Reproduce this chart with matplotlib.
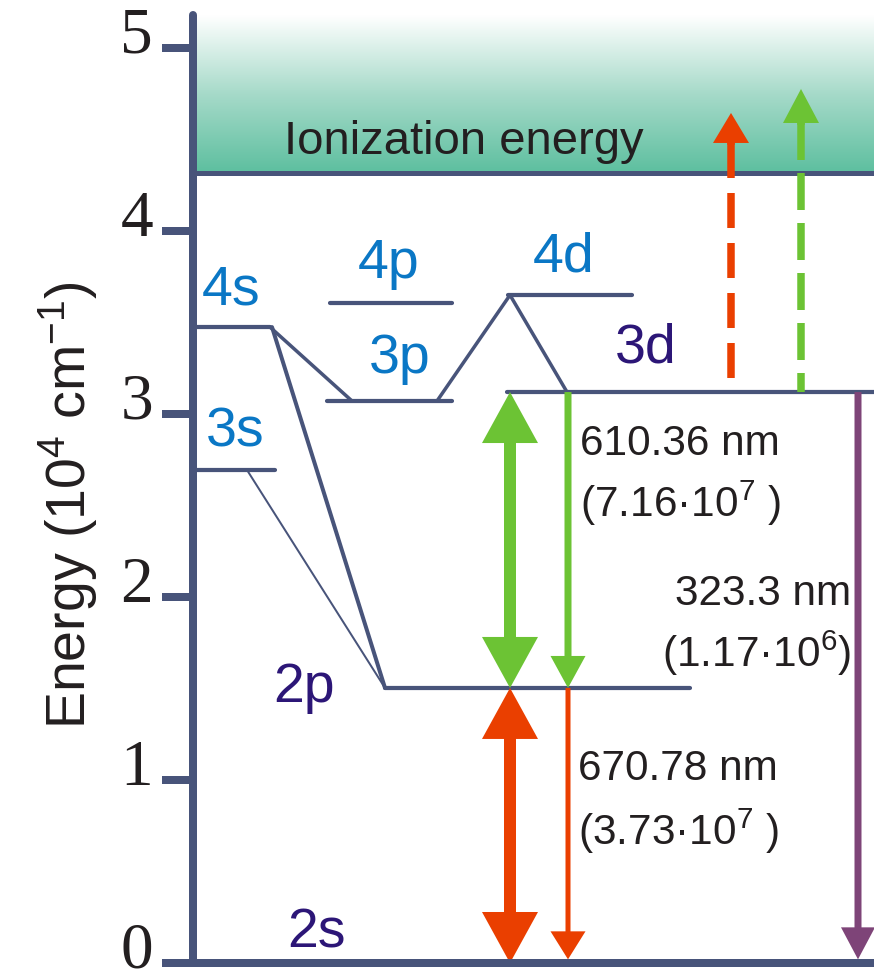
import numpy as np
import matplotlib
matplotlib.use("Agg")
import matplotlib.pyplot as plt
import matplotlib.transforms as mtransforms
from matplotlib.patches import FancyArrowPatch
from matplotlib.colors import LinearSegmentedColormap

plt.rcParams["font.family"] = ["Liberation Sans", "DejaVu Sans"]
plt.rcParams["mathtext.default"] = "regular"
plt.rcParams["lines.scale_dashes"] = False

# --- data: Li term energies in 10^4 cm^-1, horizontal layout in px from the axis ---
level_names = ["2s", "2p", "3s", "3p", "3d", "4s", "4p", "4d"]
level_energy = [0.0, 1.503, 2.694, 3.071, 3.120, 3.475, 3.607, 3.650]
level_x0 = [0, 192, 0, 134, 314, 0, 137, 315]
level_x1 = [681, 497, 82, 259, 681, 77, 259, 439]
label_x = [94, 80, 13, 176, 422, 9, 165, 340]
label_e = [0.087, 1.426, 2.825, 3.224, 3.279, 3.596, 3.743, 3.776]
label_col = ["#2c1677", "#2c1677", "#0a77c5", "#0a77c5", "#2c1677", "#0a77c5", "#0a77c5", "#0a77c5"]
ion_energy = 4.317

# cascade lines (from level -> to level, line width px)
links_from = ["4s", "4s", "3s", "3p", "4d"]
links_to = ["3p", "2p", "2p", "4d", "3d"]
links_x0 = [77, 79, 54, 244, 317]
links_x1 = [159, 192, 192, 317, 374]
links_w = [3.5, 4.0, 2.0, 3.5, 3.5]

# transitions
wl_text = ["610.36 nm", "(7.16·10$^7$ )", "323.3 nm", "(1.17·10$^6$)", "670.78 nm", "(3.73·10$^7$ )"]
wl_x = [387, 387, 658, 658, 385, 385]
wl_e = [2.776, 2.437, 1.956, 1.617, 1.000, 0.645]
wl_ha = ["left", "left", "right", "right", "left", "left"]

SLATE = "#48547a"
GREEN = "#6cc334"
RED = "#ea3f00"
PURPLE = "#7e4478"
INK = "#231f20"
PT = 0.72  # px -> pt at dpi 100

fig = plt.figure(figsize=(8.74, 9.72), dpi=100)
ax = fig.add_axes([193 / 874, 9 / 972, 681 / 874, 948 / 972])
ytop = 948 / 183

# ionization continuum gradient
cmap = LinearSegmentedColormap.from_list("ion", ["#5dbf9f", "#a6dac9", "#ffffff"])
ax.imshow(np.linspace(0, 1, 256).reshape(-1, 1), extent=[0, 681, ion_energy, ytop],
          origin="lower", cmap=cmap, aspect="auto", zorder=0)
ax.axhline(ion_energy, color=SLATE, lw=5 * PT, zorder=2)
ax.text(91, 4.421, "Ionization energy", fontsize=34, color=INK, va="baseline")

ax.set_xlim(0, 681)
ax.set_ylim(0, ytop)
ppu = 183.0  # px per energy unit

# levels
for name, e, x0, x1 in zip(level_names, level_energy, level_x0, level_x1):
    if name == "2s":
        continue
    ax.plot([x0, x1], [e, e], color=SLATE, lw=4.2 * PT, solid_capstyle="round", zorder=3)
for name, x, e, c in zip(level_names, label_x, label_e, label_col):
    ax.text(x, e, name, fontsize=40, color=c, va="baseline")

E = dict(zip(level_names, level_energy))
for a, b, x0, x1, w in zip(links_from, links_to, links_x0, links_x1, links_w):
    ax.plot([x0, x1], [E[a], E[b]], color=SLATE, lw=w * PT, solid_capstyle="round", zorder=3)


def arrow(x, y0, y1, color, tail, hw, hl):
    ax.add_patch(FancyArrowPatch((x, y0), (x, y1),
                                 arrowstyle=f"simple,head_length={hl * PT},head_width={hw * PT},tail_width={tail * PT}",
                                 color=color, lw=0, shrinkA=0, shrinkB=0, mutation_scale=1, zorder=4))


def double_arrow(x, y0, y1, color, hl=51):
    # each half starts under the opposite head so no shaft pokes past a tip
    d = np.sign(y1 - y0) * (hl - 4) / ppu
    arrow(x, y0 + d, y1, color, 12, 56, hl)
    arrow(x, y1 - d, y0, color, 12, 56, hl)


double_arrow(317, E["3d"], E["2p"], GREEN)
double_arrow(317, E["2p"], E["2s"], RED)
arrow(375, E["3d"], E["2p"], GREEN, 7, 35, 32)
arrow(375, E["2p"], E["2s"] + 0.02, RED, 5, 35, 28)
arrow(665, E["3d"], E["2s"] + 0.02, PURPLE, 7, 34, 32)

# photo-ionization (dashed)
dash_x = [538, 608]
dash_tip = [4.645, 4.776]
dash_col = [RED, GREEN]
dash_hl = [30, 34]
dash_pat = [(35, 15), (37, 13)]
for x, tip, c, hl, pat in zip(dash_x, dash_tip, dash_col, dash_hl, dash_pat):
    base = tip - hl / ppu
    ax.plot([x, x], [base, E["3d"]], color=c, lw=7.5 * PT, dashes=(pat[0] * PT, pat[1] * PT),
            solid_capstyle="butt", dash_capstyle="butt", zorder=4)
    arrow(x, base - 0.01, tip, c, 7.5, 36, hl)

for t, x, e, ha in zip(wl_text, wl_x, wl_e, wl_ha):
    ax.text(x, e, t, fontsize=30.5, color=INK, ha=ha, va="baseline", zorder=5)

# axes styling
for s in ["top", "right"]:
    ax.spines[s].set_visible(False)
for s in ["left", "bottom"]:
    ax.spines[s].set_color(SLATE)
    ax.spines[s].set_linewidth(8 * PT)
    ax.spines[s].set_capstyle("round")
    ax.spines[s].set_zorder(6)
ax.set_xticks([])
ax.set_yticks(range(6))
ax.tick_params(axis="y", direction="out", length=31 * PT, width=8 * PT, color=SLATE, pad=6.5,
               labelsize=47, labelcolor=INK)
for lbl in ax.get_yticklabels():
    lbl.set_fontfamily("Liberation Serif")
    lbl.set_transform(lbl.get_transform() + mtransforms.ScaledTranslation(0, 0.18, fig.dpi_scale_trans))

ax.set_ylabel("Energy (10$^4$ cm$^{-1}$)", fontsize=40, color=INK, va="center")
ax.yaxis.set_label_coords(-0.1836, 0.483)

fig.savefig("out.png", dpi=100)
